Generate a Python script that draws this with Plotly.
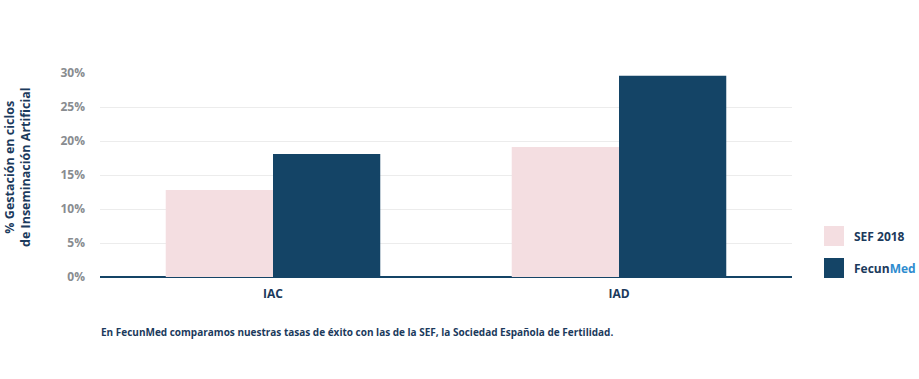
import plotly.graph_objects as go

categories = ["IAC", "IAD"]
series_names = ["SEF 2018", "FecunMed"]
sef_values = [12.8, 19.1]
fecunmed_values = [18.1, 29.6]
tick_values = [0, 5, 10, 15, 20, 25, 30]
tick_labels = ["0%", "5%", "10%", "15%", "20%", "25%", "30%"]
y_title = "% Gestación en ciclos<br>de Inseminación Artificial"
footer = "En FecunMed comparamos nuestras tasas de éxito con las de la SEF, la Sociedad Española de Fertilidad."

PINK = "#f4dee1"
NAVY = "#144466"
TEXT = "#1b3a5c"
LIGHT = "#2e8ccf"
FONT = "Open Sans"

W, H = 919, 379
L, R, T, B = 100, 792, 73, 277
PW, PH = R - L, B - T

def px(x):
    return (x - L) / PW

def py(y):
    return (B - y) / PH

fig = go.Figure()
fig.add_trace(go.Bar(x=categories, y=sef_values, name=series_names[0],
                     marker=dict(color=PINK, line=dict(width=0))))
fig.add_trace(go.Bar(x=categories, y=fecunmed_values, name=series_names[1],
                     marker=dict(color=NAVY, line=dict(width=0))))

fig.update_layout(
    width=W, height=H,
    margin=dict(l=L, r=W - R, t=T, b=H - B, autoexpand=False),
    paper_bgcolor="white", plot_bgcolor="white",
    barmode="group", bargap=0.38, bargroupgap=0,
    showlegend=False,
    font=dict(family=FONT, color=TEXT),
    xaxis=dict(showgrid=False, tickfont=dict(size=12, color=TEXT, family=FONT, weight="bold"),
               ticks="", showline=False, ticklabelstandoff=8),
    yaxis=dict(range=[0, 30], tickvals=tick_values, ticktext=tick_labels,
               tickfont=dict(size=12, color="#888c90", family=FONT, weight="bold"),
               gridcolor="#ececec", gridwidth=1, zeroline=True, zerolinecolor=NAVY,
               zerolinewidth=2, ticks="", ticklabelstandoff=14),
)

# y-axis title
fig.add_annotation(xref="paper", yref="paper", x=px(17), y=py(167),
                   text="<b>%s</b>" % y_title, showarrow=False, textangle=-90,
                   xanchor="center", yanchor="middle",
                   font=dict(size=12.5, color=TEXT, family=FONT))

# custom legend
legend_items = [(series_names[0], PINK, series_names[0]),
                (series_names[1], NAVY, "Fecun<span style='color:%s'>Med</span>" % LIGHT)]
ys = [236, 268]
for (name, col, label), yc in zip(legend_items, ys):
    fig.add_shape(type="rect", xref="paper", yref="paper",
                  x0=px(824), x1=px(844),
                  y0=py(yc + 10), y1=py(yc - 10),
                  fillcolor=col, line=dict(width=0))
    fig.add_annotation(xref="paper", yref="paper", x=px(852),
                       y=py(yc), text="<b>%s</b>" % label, showarrow=False,
                       xanchor="left", yanchor="middle",
                       font=dict(size=12, color=TEXT, family=FONT))

fig.add_annotation(xref="paper", yref="paper", x=px(99), y=py(332),
                   text="<b>%s</b>" % footer, showarrow=False, xanchor="left",
                   yanchor="middle", font=dict(size=10, color=TEXT, family=FONT))

fig.write_html("out.html", config={"displayModeBar": False},
               post_script="document.body.style.margin='0';document.body.style.overflow='hidden';")
